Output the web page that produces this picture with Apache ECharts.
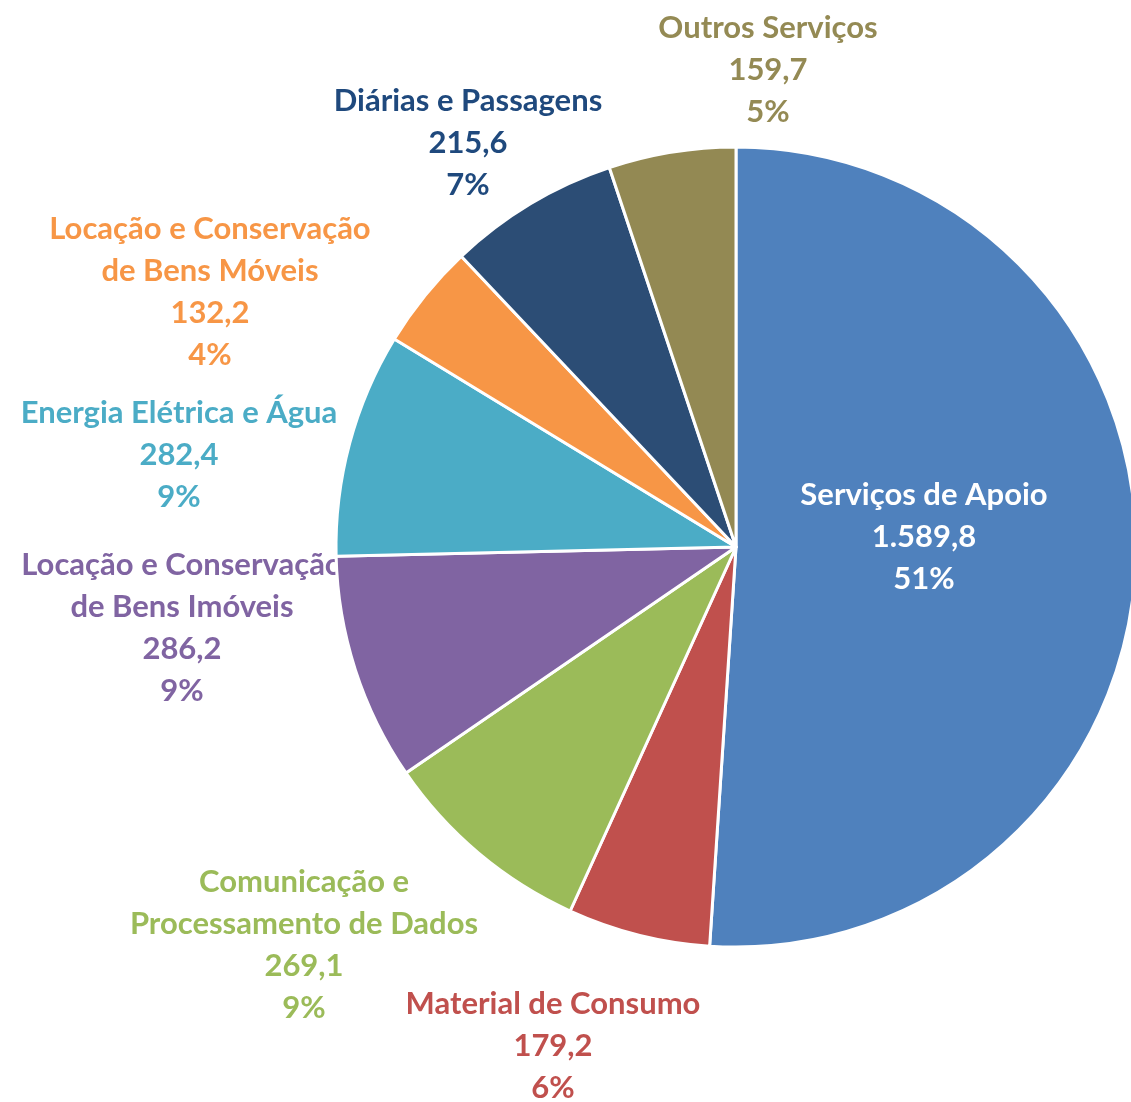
<!DOCTYPE html>
<html>
<head>
<meta charset="utf-8">
<script src="https://cdn.jsdelivr.net/npm/echarts@6/dist/echarts.min.js"></script>
<style>
  html, body { margin: 0; padding: 0; background: #fff; }
  #chart { width: 1131px; height: 1102px; }
</style>
</head>
<body>
<div id="chart"></div>
<script>
const categories = [
  'Serviços de Apoio',
  'Material de Consumo',
  'Comunicação e\nProcessamento de Dados',
  'Locação e Conservação\nde Bens Imóveis',
  'Energia Elétrica e Água',
  'Locação e Conservação\nde Bens Móveis',
  'Diárias e Passagens',
  'Outros Serviços'
]
const values = [1589.8, 179.2, 269.1, 286.2, 282.4, 132.2, 215.6, 159.7]
const colors = ['#4F81BD', '#C0504D', '#9BBB59', '#8064A2', '#4BACC6', '#F79646', '#2C4D75', '#938953']
const textColors = ['#ffffff', '#C0504D', '#9BBB59', '#8064A2', '#4BACC6', '#F79646', '#1F497D', '#948A54']

// where each label block sits (centre of the block)
const labelSpots = [
  [924, 537], [553, 1046], [304, 945], [182, 628],
  [179, 455], [210, 292], [468, 143], [768, 70]
]

const fmt = (v) => {
  let parts = v.toFixed(1).split('.')
  let int = parts[0].replace(/\B(?=(\d{3})+(?!\d))/g, '.')
  return int + ',' + parts[1]
}

// outside labels sit under the pie (Excel clips them), the inner one on top
const makePie = (z, showLabel) => ({
  type: 'pie',
  z: z,
  center: [736, 547],
  radius: 400,
  startAngle: 90,
  clockwise: true,
  avoidLabelOverlap: false,
  itemStyle: { borderColor: '#fff', borderWidth: 3 },
  labelLine: { show: false },
  label: {
    position: 'outside',
    fontFamily: 'Lato',
    fontWeight: 'bold',
    fontSize: 31,
    lineHeight: 42,
    align: 'center',
    formatter: (p) => p.name + '\n' + fmt(p.value) + '\n' + Math.round(p.percent) + '%'
  },
  labelLayout: (params) => {
    const s = labelSpots[params.dataIndex]
    return { x: s[0], y: s[1], align: 'center', verticalAlign: 'middle' }
  },
  data: categories.map((name, i) => ({
    name: name,
    value: values[i],
    itemStyle: { color: colors[i] },
    label: { show: showLabel(i), color: textColors[i] }
  }))
})

const chart = echarts.init(document.getElementById('chart'))
chart.setOption({
  animation: false,
  series: [
    makePie(1, (i) => i !== 0),
    makePie(2, (i) => i === 0)
  ]
})
</script>
</body>
</html>
